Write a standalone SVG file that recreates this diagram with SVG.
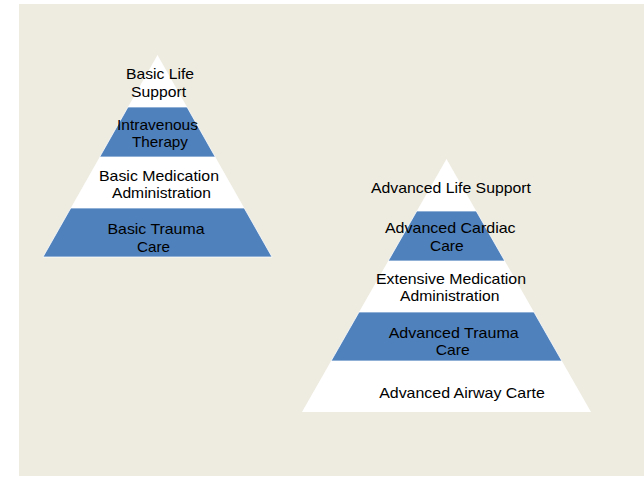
<svg xmlns="http://www.w3.org/2000/svg" width="644" height="477" viewBox="0 0 644 477">
  <style>
    .bg { fill: #EEECE1; }
    .w { fill: #FFFFFF; }
    .b { fill: #4F81BD; stroke: #FFFFFF; stroke-width: 0.75; }
    .t { font-family: "Liberation Sans", Arial, sans-serif; font-size: 14.5px; fill: #000000; text-anchor: middle; }
  </style>
  <rect class="bg" x="19" y="4" width="625" height="472"/>

  <g id="basic-pyramid">
    <g id="basic-life-support">
      <polygon class="w" points="157.5,55 187,107 128,107"/>
      <text class="t" x="160" y="79" textLength="68" lengthAdjust="spacingAndGlyphs">Basic Life</text>
      <text class="t" x="158.5" y="96.5" textLength="55" lengthAdjust="spacingAndGlyphs">Support</text>
    </g>
    <g id="intravenous-therapy">
      <polygon class="b" points="128,107 187,107 215.3,157 99.7,157"/>
      <text class="t" x="157.5" y="130" textLength="81" lengthAdjust="spacingAndGlyphs">Intravenous</text>
      <text class="t" x="160" y="146.7" textLength="56" lengthAdjust="spacingAndGlyphs">Therapy</text>
    </g>
    <g id="basic-medication">
      <polygon class="w" points="99.7,157 215.3,157 244.2,208 70.8,208"/>
      <text class="t" x="159" y="180.7" textLength="120" lengthAdjust="spacingAndGlyphs">Basic Medication</text>
      <text class="t" x="161.5" y="197.7" textLength="99" lengthAdjust="spacingAndGlyphs">Administration</text>
    </g>
    <g id="basic-trauma-care">
      <polygon class="b" points="70.8,208 244.2,208 272,257 43,257"/>
      <text class="t" x="156" y="234.3" textLength="97" lengthAdjust="spacingAndGlyphs">Basic Trauma</text>
      <text class="t" x="153.5" y="251.7" textLength="33" lengthAdjust="spacingAndGlyphs">Care</text>
    </g>
  </g>

  <g id="advanced-pyramid">
    <g id="advanced-life-support">
      <polygon class="w" points="446.5,159 476.2,211 416.8,211"/>
      <text class="t" x="451" y="192.7" textLength="160" lengthAdjust="spacingAndGlyphs">Advanced Life Support</text>
    </g>
    <g id="advanced-cardiac-care">
      <polygon class="b" points="416.8,211 476.2,211 504.8,261 388.2,261"/>
      <text class="t" x="450.3" y="233.3" textLength="130.7" lengthAdjust="spacingAndGlyphs">Advanced Cardiac</text>
      <text class="t" x="446.8" y="251" textLength="33.7" lengthAdjust="spacingAndGlyphs">Care</text>
    </g>
    <g id="extensive-medication">
      <polygon class="w" points="388.2,261 504.8,261 533.9,312 359.1,312"/>
      <text class="t" x="451" y="284.3" textLength="150" lengthAdjust="spacingAndGlyphs">Extensive Medication</text>
      <text class="t" x="449.7" y="301" textLength="99.3" lengthAdjust="spacingAndGlyphs">Administration</text>
    </g>
    <g id="advanced-trauma-care">
      <polygon class="b" points="359.1,312 533.9,312 561.9,361 331.1,361"/>
      <text class="t" x="453.7" y="337.7" textLength="130" lengthAdjust="spacingAndGlyphs">Advanced Trauma</text>
      <text class="t" x="452.7" y="355" textLength="34" lengthAdjust="spacingAndGlyphs">Care</text>
    </g>
    <g id="advanced-airway-care">
      <polygon class="w" points="331.1,361 561.9,361 591,412 302,412"/>
      <text class="t" x="462" y="398.3" textLength="165.7" lengthAdjust="spacingAndGlyphs">Advanced Airway Carte</text>
    </g>
  </g>

  <g id="connectors"/>
</svg>
